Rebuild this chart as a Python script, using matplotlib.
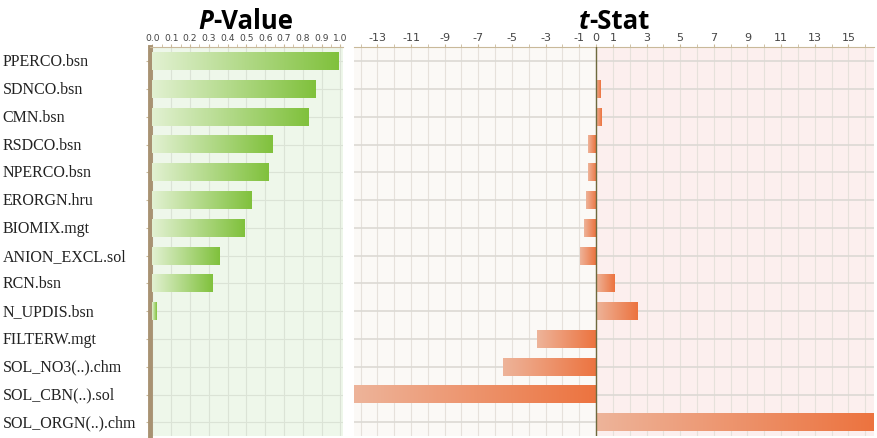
import numpy as np
import matplotlib
matplotlib.use("Agg")
import matplotlib.pyplot as plt
from matplotlib.colors import LinearSegmentedColormap

plt.rcParams["axes.unicode_minus"] = False

params = ["PPERCO.bsn", "SDNCO.bsn", "CMN.bsn", "RSDCO.bsn", "NPERCO.bsn",
          "ERORGN.hru", "BIOMIX.mgt", "ANION_EXCL.sol", "RCN.bsn", "N_UPDIS.bsn",
          "FILTERW.mgt", "SOL_NO3(..).chm", "SOL_CBN(..).sol", "SOL_ORGN(..).chm"]
p_value = [0.99, 0.87, 0.83, 0.64, 0.62, 0.53, 0.49, 0.36, 0.32, 0.025,
           0.0, 0.0, 0.0, 0.0]
t_stat = [0.05, 0.25, 0.3, -0.45, -0.5, -0.6, -0.7, -0.93, 1.1, 2.45,
          -3.5, -5.55, -14.4, 16.5]
p_ticks = [0.0, 0.1, 0.2, 0.3, 0.4, 0.5, 0.6, 0.7, 0.8, 0.9, 1.0]
t_ticks = [-13, -11, -9, -7, -5, -3, -1, 0, 1, 3, 5, 7, 9, 11, 13, 15]

green = LinearSegmentedColormap.from_list("g", ["#e2f1d2", "#80c13c"])
orange = LinearSegmentedColormap.from_list("o", ["#eeb49a", "#ec733f"])
grad = np.linspace(0, 1, 256).reshape(1, -1)

def gbar(ax, y, x0, x1, cmap, h=0.64):
  if x1 == x0:
    return
  ax.imshow(grad, cmap=cmap, extent=(min(x0, x1), max(x0, x1), y + h/2, y - h/2),
            aspect="auto", zorder=3, interpolation="bilinear")

def style(ax, size):
  ax.xaxis.tick_top()
  ax.tick_params(axis="x", which="both", length=2.5, color="#c9b99a", pad=1,
                 labelsize=size, labelcolor="#444444")
  for s in ["bottom", "right", "left"]:
    ax.spines[s].set_visible(False)
  ax.spines["top"].set_color("#c9b99a")
  ax.set_ylim(len(params) - 0.5, -0.5)
  ax.set_yticks(range(len(params)))

fig = plt.figure(figsize=(8.78, 4.39), dpi=100)
ax1 = fig.add_axes([0.171, 0.004, 0.22, 0.886])
ax2 = fig.add_axes([0.403, 0.004, 0.592, 0.886])

# P-Value panel
style(ax1, 6.6)
ax1.set_facecolor("#eef7ea")
ax1.set_xlim(-0.012, 1.015)
ax1.set_xticks(p_ticks)
ax1.set_xticklabels(["%.1f" % v for v in p_ticks])
ax1.set_xticks(np.arange(0, 1.01, 0.05), minor=True)
ax1.set_yticklabels([])
ax1.tick_params(axis="y", length=3, color="#c9b99a")
ax1.spines["left"].set_visible(True)
ax1.spines["left"].set_color("#a89272")
ax1.spines["left"].set_linewidth(3.5)
ax1.grid(True, color="#dbe3d6", lw=0.8, zorder=0)
for i, v in enumerate(p_value):
  gbar(ax1, i, 0, v, green)

# t-Stat panel
style(ax2, 8)
ax2.set_facecolor("#fbf9f6")
ax2.set_xlim(-14.4, 16.5)
ax2.axvspan(0, 16.5, color="#fcefee", zorder=0)
ax2.set_xticks(t_ticks)
ax2.set_xticks(np.arange(-14, 17, 1), minor=True)
ax2.set_yticklabels([])
ax2.tick_params(axis="y", length=0)
ax2.grid(True, which="minor", axis="x", color="#e6e1db", lw=0.8, zorder=1)
ax2.grid(True, which="major", axis="y", color="#dcd9d4", lw=1.2, zorder=1)
ax2.grid(True, which="major", axis="x", color="#e6e1db", lw=0.8, zorder=1)
ax2.axvline(0, color="#6e6a3e", lw=1.0, zorder=4)
for i, v in enumerate(t_stat):
  gbar(ax2, i, 0, v, orange)

# parameter names
for i, name in enumerate(params):
  ax1.annotate(name, xy=(0.003, i), xycoords=("figure fraction", "data"),
               va="center", ha="left", fontsize=11.5, family="Liberation Serif",
               color="#222222", annotation_clip=False)

# titles
tf = dict(fontsize=18.5, fontweight="bold", family="Open Sans")
t1 = fig.text(0.226, 0.935, "P", style="italic", **tf)
ax1.annotate("-Value", xy=(1, 0), xycoords=t1, va="bottom",
             annotation_clip=False, **tf)
t2 = fig.text(0.659, 0.935, "t", style="italic", **tf)
ax2.annotate("-Stat", xy=(1, 0), xycoords=t2, va="bottom",
             annotation_clip=False, **tf)

fig.savefig("out.png", dpi=100)
